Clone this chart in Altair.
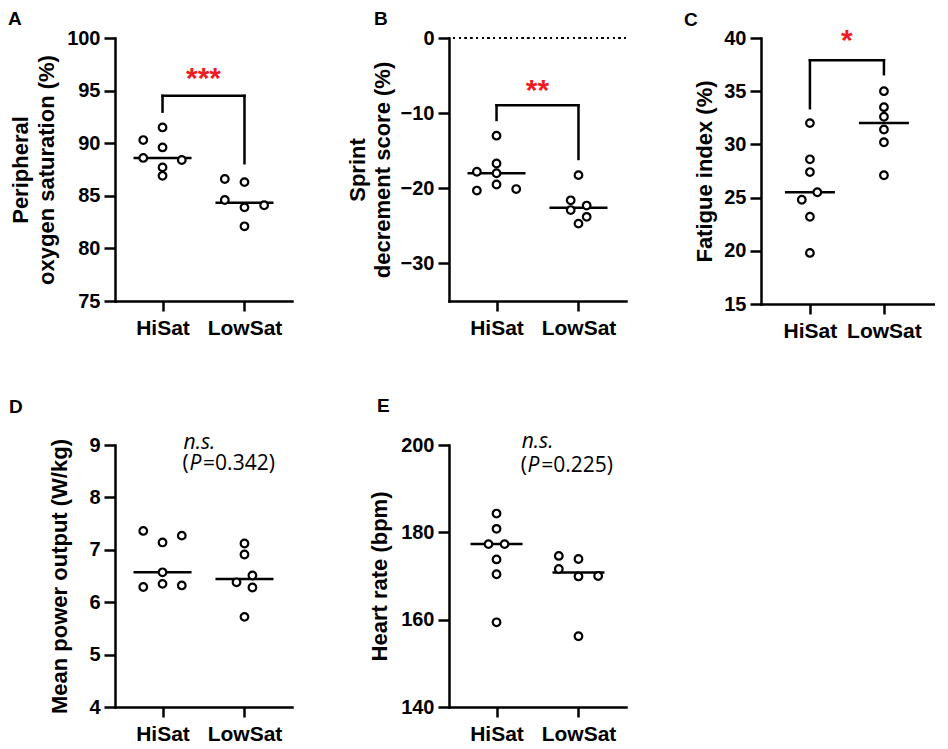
import altair as alt
import pandas as pd

groups = ["HiSat", "LowSat"]

# ---- Panel A: peripheral oxygen saturation (%)
a_hi = [90.3, 91.5, 89.6, 88.6, 88.4, 87.7, 86.9]
a_hi_jit = [-0.235, 0, 0, -0.235, 0.235, 0, 0]
a_lo = [86.6, 86.3, 84.6, 83.9, 84.1, 82.1]
a_lo_jit = [-0.24, 0, -0.24, 0, 0.24, 0]
a_ticks = [75, 80, 85, 90, 95, 100]
a_bracket = [94.5, 93.0, 88.1]  # top, left leg end, right leg end

# ---- Panel B: sprint decrement score (%)
b_hi = [-13.0, -16.7, -17.8, -18.0, -19.5, -20.1, -20.3]
b_hi_jit = [0, 0, -0.24, 0, 0, 0.24, -0.24]
b_lo = [-18.25, -21.6, -22.3, -22.9, -23.8, -24.7]
b_lo_jit = [0, -0.095, 0.1, -0.095, 0.1, 0]
b_ticks = [-30, -20, -10, 0]
b_bracket = [-8.95, -10.9, -16.1]
b_ref = 0

# ---- Panel C: fatigue index (%)
c_hi = [32.0, 28.6, 27.4, 25.5, 24.8, 23.2, 19.8]
c_hi_jit = [0, 0, 0, 0.1, -0.11, 0, 0]
c_lo = [35.0, 33.5, 32.6, 31.4, 30.2, 27.1]
c_lo_jit = [0, 0, 0, 0, 0, 0]
c_ticks = [15, 20, 25, 30, 35, 40]
c_bracket = [37.9, 33.4, 36.6]

# ---- Panel D: mean power output (W/kg)
d_hi = [7.36, 7.27, 7.14, 6.57, 6.29, 6.35, 6.32]
d_hi_jit = [-0.235, 0.235, 0, 0, -0.235, 0, 0.235]
d_lo = [7.12, 6.91, 6.51, 6.38, 6.28, 5.72]
d_lo_jit = [0, 0, 0.097, -0.097, 0.097, 0]
d_ticks = [4, 5, 6, 7, 8, 9]
d_ns = [1.245, 8.93, 8.52, "0.342"]  # x, y(n.s.), y(P line), P value

# ---- Panel E: heart rate (bpm)
e_hi = [184.3, 180.8, 177.3, 177.3, 173.8, 170.4, 159.4]
e_hi_jit = [0, 0, -0.098, 0.098, 0, 0, 0]
e_lo = [174.6, 173.9, 171.6, 169.9, 170.0, 156.2]
e_lo_jit = [-0.24, 0, -0.24, 0, 0.24, 0]
e_ticks = [140, 160, 180, 200]
e_ns = [1.295, 199.3, 193.9, "0.225"]

FONT = "Liberation Sans"
NSFONT = "Open Sans"
RED = "#ee1d23"
LW = 2.5


def make_df(hi, hi_jit, lo, lo_jit):
    rows = []
    for v, j in zip(hi, hi_jit):
        rows.append({"group": groups[0], "gi": 1, "pos": 1 + j, "value": v})
    for v, j in zip(lo, lo_jit):
        rows.append({"group": groups[1], "gi": 2, "pos": 2 + j, "value": v})
    return pd.DataFrame(rows)


label_expr = "datum.value == 1 ? '%s' : '%s'" % (groups[0], groups[1])


def panel(df, ydom, yticks, ytitle, letter, l_dx, l_off, ext, lh, xdom,
          width, height, med_len, bracket=None, stars=None, star_dy=-4,
          ns=None, ref=None):
    xs = alt.Scale(domain=xdom, nice=False, zero=False)
    ys = alt.Scale(domain=ydom, nice=False, zero=False)
    xax = alt.Axis(values=[1, 2], labelExpr=label_expr, title=None,
                   labelFontSize=21, labelFont=FONT, labelFontWeight="bold",
                   labelColor="black", labelPadding=6, tickSize=10,
                   tickWidth=LW, tickColor="black", domainWidth=LW,
                   domainColor="black", domainCap="square", grid=False,
                   labelFlush=False, labelOverlap=False)
    yax = alt.Axis(values=yticks, title=ytitle, titleFontSize=22,
                   titleFont=FONT, titleFontWeight="bold", titleColor="black",
                   titlePadding=0, minExtent=ext, maxExtent=ext,
                   titleLineHeight=lh,
                   labelFontSize=20, labelFont=FONT, labelFontWeight="bold",
                   labelColor="black", labelPadding=4, tickSize=11,
                   tickWidth=LW, tickColor="black", domainWidth=LW,
                   domainColor="black", domainCap="square", grid=False,
                   labelFlush=False, labelOverlap=False)
    base = alt.Chart(df)
    layers = []
    if ref is not None:
        layers.append(
            base.mark_rule(strokeDash=[1.5, 4.2], strokeWidth=1.8, color="black")
            .encode(y=alt.Y(datum=ref, type="quantitative", scale=ys, axis=yax))
        )
    med = base.mark_tick(orient="horizontal", size=med_len, thickness=LW,
                         color="black").encode(
        x=alt.X("gi:Q", scale=xs, axis=xax),
        y=alt.Y("median(value):Q", scale=ys, axis=yax),
    )
    pts = base.mark_point(shape="circle", filled=True, fill="white",
                          stroke="black", strokeWidth=2.2, size=58,
                          opacity=1).encode(
        x=alt.X("pos:Q", scale=xs, axis=xax),
        y=alt.Y("value:Q", scale=ys, axis=yax),
    )
    layers += [med, pts]
    if bracket is not None:
        top, lb, rb = bracket
        bdf = pd.DataFrame([
            {"x": 1, "x2": 2, "y": top, "y2": top},
            {"x": 1, "x2": 1, "y": lb, "y2": top},
            {"x": 2, "x2": 2, "y": rb, "y2": top},
        ])
        layers.append(
            alt.Chart(bdf).mark_rule(strokeWidth=LW, color="black",
                                     strokeCap="square").encode(
                x=alt.X("x:Q", scale=xs, axis=xax), x2="x2:Q",
                y=alt.Y("y:Q", scale=ys, axis=yax), y2="y2:Q")
        )
        sdf = pd.DataFrame([{"x": 1.5, "y": top, "t": stars}])
        layers.append(
            alt.Chart(sdf).mark_text(font=FONT, fontWeight="bold", fontSize=30,
                                     color=RED, baseline="alphabetic",
                                     dy=star_dy).encode(
                x=alt.X("x:Q", scale=xs, axis=xax),
                y=alt.Y("y:Q", scale=ys, axis=yax), text="t:N")
        )
    if ns is not None:
        nx, ny1, ny2, pval = ns
        tdf = pd.DataFrame([
            {"x": nx, "y": ny1, "t": "n.s.", "k": "it", "dx": 1},
            {"x": nx, "y": ny2, "t": "(", "k": "rg", "dx": 0},
            {"x": nx, "y": ny2, "t": "P", "k": "it", "dx": 6.8},
            {"x": nx, "y": ny2, "t": "=" + pval + ")", "k": "rg", "dx": 20.5},
        ])
        for k, style in (("it", "italic"), ("rg", "normal")):
            for dxv in sorted(set(tdf[tdf.k == k].dx)):
                sub = tdf[(tdf.k == k) & (tdf.dx == dxv)]
                layers.append(
                    alt.Chart(sub).mark_text(font=NSFONT, fontSize=21,
                                             fontStyle=style, color="black",
                                             align="left", baseline="alphabetic",
                                             dx=float(dxv)).encode(
                        x=alt.X("x:Q", scale=xs, axis=xax),
                        y=alt.Y("y:Q", scale=ys, axis=yax), text="t:N")
                )
    return alt.layer(*layers).properties(
        width=width, height=height,
        title=alt.TitleParams(letter, anchor="start", frame="group", dx=l_dx,
                              offset=l_off, fontSize=19, font=FONT,
                              fontWeight="bold", color="black"),
    )


def spacer(w):
    return alt.Chart(pd.DataFrame({"a": [0]})).mark_point(opacity=0).encode(
        x=alt.value(0), y=alt.value(0)).properties(width=w, height=1)


XD = [0.42, 2.58]
A = panel(make_df(a_hi, a_hi_jit, a_lo, a_lo_jit), [75, 100], a_ticks,
          ["Peripheral", "oxygen saturation (%)"], "A", -107, -1, 57, 26, XD,
          177, 263, 58, bracket=a_bracket, stars="***", star_dy=-8)
B = panel(make_df(b_hi, b_hi_jit, b_lo, b_lo_jit), [-35, 0], b_ticks,
          ["Sprint", "decrement score (%)"], "B", -75, -1, 55, 25, XD,
          177, 263, 58, bracket=b_bracket, stars="**", star_dy=-5, ref=b_ref)
C = panel(make_df(c_hi, c_hi_jit, c_lo, c_lo_jit), [15, 40], c_ticks,
          "Fatigue index (%)", "C", -77, -4, 45, 25, [0.339, 2.69],
          174, 266, 50, bracket=c_bracket, stars="*", star_dy=-10)
D = panel(make_df(d_hi, d_hi_jit, d_lo, d_lo_jit), [4, 9], d_ticks,
          "Mean power output (W/kg)", "D", -106, 15, 44, 25, XD,
          177, 262, 58, ns=d_ns)
E = panel(make_df(e_hi, e_hi_jit, e_lo, e_lo_jit), [140, 200], e_ticks,
          "Heart rate (bpm)", "E", -72, 15, 58, 25, XD,
          177, 262, 52, ns=e_ns)

chart = alt.concat(
    A, spacer(157), B, spacer(135), C,
    D, spacer(157), E,
    columns=5, spacing={"row": 141, "column": 0}, align="each", bounds="flush",
).configure_view(stroke=None).properties(
    padding={"left": 0, "top": 2, "right": 0, "bottom": 0})

chart.save("out.html", embed_options={"renderer": "svg", "actions": False})
